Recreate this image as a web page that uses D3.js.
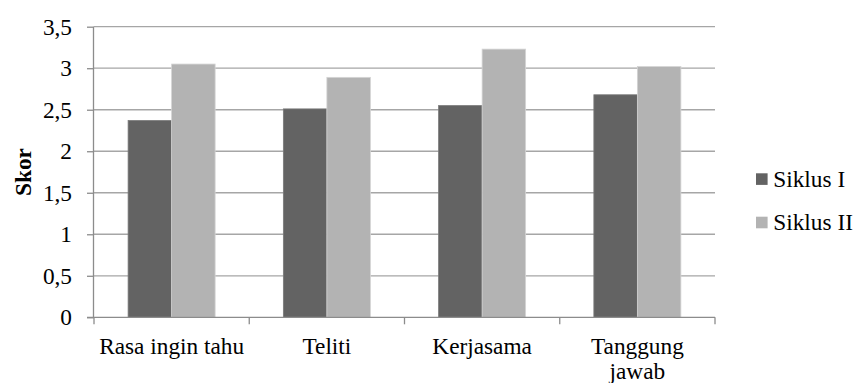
<!DOCTYPE html>
<html>
<head>
<meta charset="utf-8">
<script src="https://cdn.jsdelivr.net/npm/d3@7"></script>
<style>
  body { margin: 0; background: #fff; }
</style>
</head>
<body>
<div id="chart"></div>
<script>
// Data
const categories = ["Rasa ingin tahu", "Teliti", "Kerjasama", "Tanggung jawab"];
const seriesNames = ["Siklus I", "Siklus II"];
const siklus1 = [2.37, 2.51, 2.55, 2.68];
const siklus2 = [3.05, 2.89, 3.23, 3.02];
const yTicks = [0, 0.5, 1, 1.5, 2, 2.5, 3, 3.5];

const colors = ["#636363", "#b3b3b3"];
const FONT = "'Liberation Serif', 'DejaVu Serif', serif";
const FS = 23.3;

// Setting up the SVG
const W = 856, H = 383;
const mLeft = 94, mTop = 26.7, plotW = 621, plotH = 290.6;

const svg = d3.select("#chart").append("svg")
  .attr("width", W)
  .attr("height", H)
  .style("font-family", FONT);

const g = svg.append("g").attr("transform", `translate(${mLeft},${mTop})`);

// Scales
const x0 = d3.scaleBand().domain(categories).range([0, plotW]).padding(0);
const x1 = d3.scaleBand().domain(seriesNames).range([0, x0.bandwidth()])
  .paddingInner(0).paddingOuter(0.784);
const y = d3.scaleLinear().domain([0, 3.5]).range([plotH, 0]);

const fmt = v => String(v).replace(".", ",");

// Gridlines
g.selectAll(".grid").data(yTicks.filter(d => d > 0)).enter()
  .append("line")
  .attr("x1", 0).attr("x2", plotW)
  .attr("y1", d => y(d)).attr("y2", d => y(d))
  .attr("stroke", "#a6a6a6").attr("stroke-width", 1.3);

// Bars
const rows = categories.map((c, i) => ({ cat: c, vals: [siklus1[i], siklus2[i]] }));
const groups = g.selectAll(".grp").data(rows).enter()
  .append("g")
  .attr("transform", d => `translate(${x0(d.cat)},0)`);

groups.selectAll("rect")
  .data(d => d.vals.map((v, j) => ({ key: seriesNames[j], v: v, j: j })))
  .enter()
  .append("rect")
  .attr("x", d => x1(d.key))
  .attr("width", x1.bandwidth())
  .attr("y", d => y(d.v))
  .attr("height", d => plotH - y(d.v))
  .attr("fill", d => colors[d.j])
  .attr("stroke", d => d.j === 1 ? "#d4d4d4" : "#7a7a7a")
  .attr("stroke-width", 0.8);

// Y axis
const yAxis = d3.axisLeft(y).tickValues(yTicks).tickSize(7).tickPadding(15).tickFormat(fmt);
const ya = g.append("g").call(yAxis).attr("font-family", FONT).attr("font-size", FS);
ya.select(".domain").attr("stroke", "#8c8c8c").attr("stroke-width", 1.3).attr("d", `M-0.5,${plotH}V0`);
ya.selectAll(".tick line").attr("stroke", "#8c8c8c").attr("stroke-width", 1.3);
ya.selectAll(".tick text").attr("fill", "#000");

// X axis
const bounds = categories.map(c => x0(c)).concat([plotW]);
g.append("line")
  .attr("x1", -7).attr("x2", plotW)
  .attr("y1", plotH).attr("y2", plotH)
  .attr("stroke", "#8c8c8c").attr("stroke-width", 1.3);
g.selectAll(".xtick").data(bounds).enter()
  .append("line")
  .attr("x1", d => d).attr("x2", d => d)
  .attr("y1", plotH).attr("y2", plotH + 7)
  .attr("stroke", "#8c8c8c").attr("stroke-width", 1.3);

// Category labels (wrap "Tanggung jawab")
const labels = g.selectAll(".xlab").data(categories).enter()
  .append("text")
  .attr("text-anchor", "middle")
  .attr("font-family", FONT)
  .attr("font-size", FS)
  .attr("x", d => x0(d) + x0.bandwidth() / 2)
  .attr("y", plotH + 36.5);
labels.each(function(d) {
  const el = d3.select(this);
  const parts = d === "Tanggung jawab" ? ["Tanggung", "jawab"] : [d];
  parts.forEach((p, i) => {
    el.append("tspan")
      .attr("x", x0(d) + x0.bandwidth() / 2)
      .attr("dy", i === 0 ? 0 : 25.5)
      .text(p);
  });
});

// Y axis title
svg.append("text")
  .attr("transform", `translate(30.5,${mTop + plotH / 2}) rotate(-90)`)
  .attr("text-anchor", "middle")
  .attr("font-family", FONT)
  .attr("font-size", FS)
  .attr("font-weight", "bold")
  .text("Skor");

// Legend
const legend = svg.append("g").attr("transform", "translate(756,173.3)");
seriesNames.forEach((s, i) => {
  legend.append("rect")
    .attr("x", 0).attr("y", i * 43.4)
    .attr("width", 11.6).attr("height", 11.6)
    .attr("fill", colors[i]);
  legend.append("text")
    .attr("x", 17.3).attr("y", i * 43.4 + 13.4)
    .attr("font-family", FONT)
    .attr("font-size", FS)
    .text(s);
});
</script>
</body>
</html>
